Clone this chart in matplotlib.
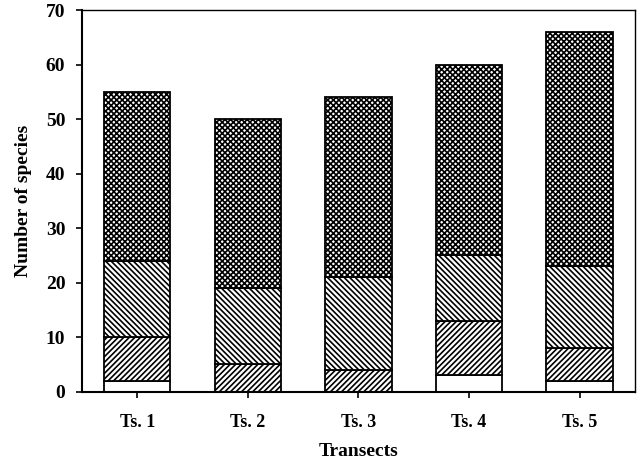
import numpy as np
import matplotlib
matplotlib.use("Agg")
import matplotlib.pyplot as plt

transects = ['Ts. 1', 'Ts. 2', 'Ts. 3', 'Ts. 4', 'Ts. 5']
# species counts per group, stacked bottom to top
grp_white = [2, 0, 0, 3, 2]
grp_fwd = [8, 5, 4, 10, 6]
grp_back = [14, 14, 17, 12, 15]
grp_cross = [31, 31, 33, 35, 43]

plt.rcParams['font.family'] = ['Liberation Serif', 'DejaVu Serif']
plt.rcParams['font.weight'] = 'bold'
plt.rcParams['hatch.linewidth'] = 1.2

fig, ax = plt.subplots(figsize=(6.4, 4.65), dpi=100)
fig.subplots_adjust(left=0.128, right=0.992, top=0.978, bottom=0.158)

x = np.arange(len(transects))
w = 0.6
bottom = np.zeros(len(transects))
for vals, hatch in [(grp_white, ''), (grp_fwd, '//////'), (grp_back, '\\\\\\\\\\\\'), (grp_cross, 'xxxxxx')]:
    ax.bar(x, vals, w, bottom=bottom, color='white', edgecolor='black', hatch=hatch, linewidth=1.3)
    bottom += np.array(vals)

ax.set_xlim(-0.5, 4.5)
ax.set_ylim(0, 70)
ax.set_yticks(range(0, 71, 10))
ax.set_xticks(x)
ax.set_xticklabels(transects, fontsize=13, fontweight='bold')
ax.tick_params(axis='y', labelsize=14, direction='out', length=4, width=1.2, pad=8)
ax.tick_params(axis='x', direction='out', length=4, width=1.2, pad=12)
for lab in ax.get_yticklabels():
    lab.set_fontweight('bold')
for s in ax.spines.values():
    s.set_linewidth(1.0)
ax.spines['left'].set_linewidth(1.5)
ax.spines['bottom'].set_linewidth(1.5)

ax.set_xlabel('Transects', fontsize=14, fontweight='bold', labelpad=9)
ax.set_ylabel('Number of species', fontsize=14, fontweight='bold', labelpad=10)

fig.savefig('out.png', dpi=100)
